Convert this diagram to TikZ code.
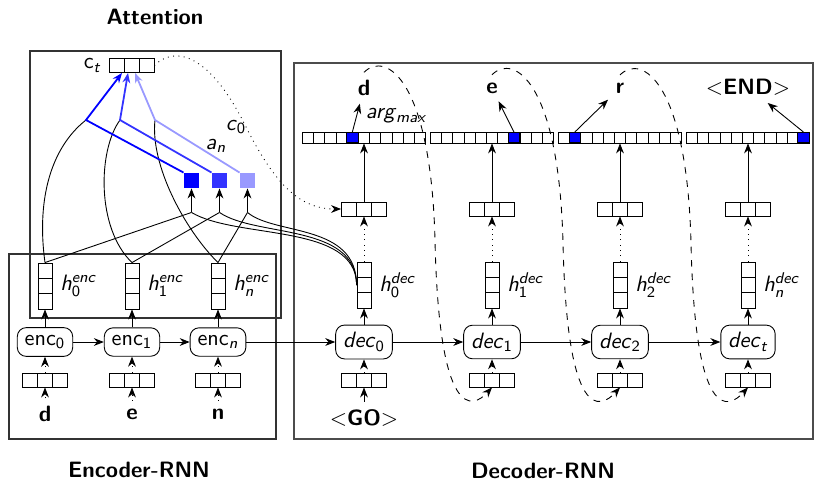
\documentclass[tikz,border=0pt]{standalone}
\usepackage{amsmath}
\usetikzlibrary{arrows.meta, calc, positioning}

\definecolor{attone}{RGB}{0, 0, 255}
\definecolor{atttwo}{RGB}{51, 51, 255}
\definecolor{attthree}{RGB}{153, 153, 255}
\newcommand{\px}{0.45pt}
% divider lines inside the vector boxes
\newcommand{\cellcols}[2]{\foreach \k in {1,...,#1}{\draw ($(path picture bounding box.north west)!\k/#2!(path picture bounding box.north east)$) -- ($(path picture bounding box.south west)!\k/#2!(path picture bounding box.south east)$);}}
\newcommand{\cellrows}[2]{\foreach \k in {1,...,#1}{\draw ($(path picture bounding box.north west)!\k/#2!(path picture bounding box.south west)$) -- ($(path picture bounding box.north east)!\k/#2!(path picture bounding box.south east)$);}}

\tikzset{
    frame/.style={draw=black!80, line width=0.6pt},
    title/.style={font=\sffamily\bfseries},
    tok/.style={font=\sffamily\bfseries},
    rnn/.style={draw, rounded corners=4pt, minimum height=28*\px},
    hvec/.style={draw, inner sep=0pt, minimum width=14*\px, minimum height=46*\px, path picture={\cellrows{2}{3}}},
    xvec/.style={draw, inner sep=0pt, minimum width=45*\px, minimum height=14*\px, path picture={\cellcols{2}{3}}},
    outbar/.style={draw, inner sep=0pt, minimum width=123*\px, minimum height=10.5*\px, path picture={\cellcols{10}{11}}},
    attw/.style={inner sep=0pt, minimum size=15*\px},
    soft/.style={->, dotted},
    wsum/.style={->, line width=0.8pt},
}

\begin{document}
\begin{tikzpicture}[x=\px, y=-\px, font=\sffamily, >={Stealth[length=4.5pt, width=3.5pt]}]
    \useasboundingbox (0, 0) rectangle (815, 483);

    % ----------------------------------------------------
    % frames and titles
    % ----------------------------------------------------
    \draw[frame] (30, 51) rectangle (281, 318);
    \draw[frame] (9, 254) rectangle (276, 439);
    \draw[frame, line width=1pt, draw=black!70] (294, 63) rectangle (813, 439);
    \node[title] (tatt) at (155, 17) {Attention};
    \node[title] (tenc) at (139, 470) {Encoder-RNN};
    \node[title] (tdec) at (543, 471) {Decoder-RNN};

    % ----------------------------------------------------
    % encoder
    % ----------------------------------------------------
    \foreach \i/\x/\tk/\ix in {0/45/d/\textup{0}, 1/132/e/\textup{1}, 2/218/n/\textit{n}} {
        \node[rnn] (enc\i) at (\x, 342) {enc$_{\ix}$};
        \node[hvec] (he\i) at (\x, 286) {};
        \node[anchor=west] (lhe\i) at (he\i.east) {\textit{h}$^{\textit{enc}}_{\ix}$};
        \node[xvec] (xe\i) at (\x, 380) {};
        \node[tok] (we\i) at (\x, 414) {\tk};
        \draw[soft] (we\i) -- (xe\i);
        \draw[soft] (xe\i) -- (enc\i);
        \draw[->] (enc\i) -- (he\i);
    }

    % ----------------------------------------------------
    % decoder
    % ----------------------------------------------------
    \foreach \i/\x/\ix/\hx in {0/364/\textup{0}/\textup{0}, 1/492/\textup{1}/\textup{1}, 2/620/\textup{2}/\textup{2}, 3/748/\textit{t}/\textit{n}} {
        \node[rnn, minimum height=32*\px] (dec\i) at (\x, 342) {\textit{dec}$_{\ix}$};
        \node[hvec] (hd\i) at (\x, 285) {};
        \node[anchor=west] (lhd\i) at (hd\i.east) {\textit{h}$^{\textit{dec}}_{\hx}$};
        \node[xvec] (xd\i) at (\x, 380) {};
        \node[xvec] (cd\i) at (\x, 209) {};
        \node[outbar] (bar\i) at (\x, 137.7) {};
        \draw[soft] (xd\i) -- (dec\i);
        \draw[->] (dec\i) -- (hd\i);
        \draw[soft] (hd\i) -- (cd\i);
        \draw[->] (cd\i) -- (bar\i);
    }

    % recurrent chain
    \draw[->] (enc0) -- (enc1);
    \draw[->] (enc1) -- (enc2);
    \draw[->] (enc2) -- (dec0);
    \draw[->] (dec0) -- (dec1);
    \draw[->] (dec1) -- (dec2);
    \draw[->] (dec2) -- (dec3);

    % start token
    \node[tok] (go) at (364, 418) {$<$GO$>$};
    \draw[->] (go) -- (xd0);

    % picked entries of the output distributions
    \foreach \i/\k in {0/4, 1/7, 2/1, 3/10} {
        \draw[fill=attone] ($(bar\i.north west)+(\k*11.18, 0)$) rectangle ++(11.18, 10.5);
        \coordinate (pick\i) at ($(bar\i.north west)+(\k*11.18+5.59, 0)$);
    }
    \node[tok] (y0) at (364, 88) {d};
    \node[tok] (y1) at (492, 88) {e};
    \node[tok] (y2) at (620, 88) {r};
    \node[tok] (y3) at (748, 87) {$<$END$>$};
    \foreach \i in {0,...,3} \draw[->] (pick\i) -- (y\i);
    \node[anchor=west] (lam) at (358, 116) {\textit{arg}$_{\textit{max}}$};

    % predicted token fed back as next input
    \foreach \i/\j in {0/1, 1/2, 2/3}
        \draw[->, dashed] (y\i.north) .. controls +(22, -22) and +(-4, -160) .. ($(y\i.north)+(71, 168)$) .. controls +(4, 180) and +(-20, 22) .. (xd\j.south);

    % ----------------------------------------------------
    % attention
    % ----------------------------------------------------
    \node[xvec] (ct) at (131.5, 65.5) {};
    \node[anchor=east] (lct) at (ct.west) {c$_{\textit{t}}$};
    \node[attw, fill=attone] (a0) at (191.5, 180.5) {};
    \node[attw, fill=atttwo] (a1) at (219.5, 180.5) {};
    \node[attw, fill=attthree] (a2) at (247.5, 180.5) {};
    \coordinate (k0) at (86, 120);
    \coordinate (k1) at (120, 120);
    \coordinate (k2) at (155, 120);
    \foreach \i/\dx/\dy in {0/45/27, 1/36/25, 2/27/23} {
        \coordinate (j\i) at ($(a\i.south)+(0, 24)$);
        \draw[->] (j\i) -- (a\i);
        \draw (he\i.north) -- (j\i);
        \draw (j\i) .. controls +(\dx, \dy) and +(0, -62) .. (hd0.west);
    }
    \draw (he0.north) .. controls (37, 205) and (48, 150) .. (k0);
    \draw (he1.north) .. controls (96, 228) and (98, 150) .. (k1);
    \draw (he2.north) .. controls (185, 230) and (150, 165) .. (k2);
    \draw[wsum, attone] (a0.north west) -- (k0) -- ($(ct.south)+(-9.5, 0)$);
    \draw[wsum, atttwo] (a1.north west) -- (k1) -- ($(ct.south)+(-3.5, 0)$);
    \draw[wsum, attthree] (a2.north west) -- (k2) -- ($(ct.south)+(3.5, 0)$);
    \node (lan) at (216, 146) {\textit{a}$_{\textit{n}}$};

    % context handed to the decoder
    \coordinate (cbend) at (245, 125);
    \draw[soft] (ct.east) .. controls +(21, -21) and +(-35, -70) .. (cbend) .. controls +(30, 60) and +(-41, 0) .. (cd0.west);
    \node (lc0) at (236, 127) {\textit{c}$_{\textup{0}}$};

\end{tikzpicture}
\end{document}
